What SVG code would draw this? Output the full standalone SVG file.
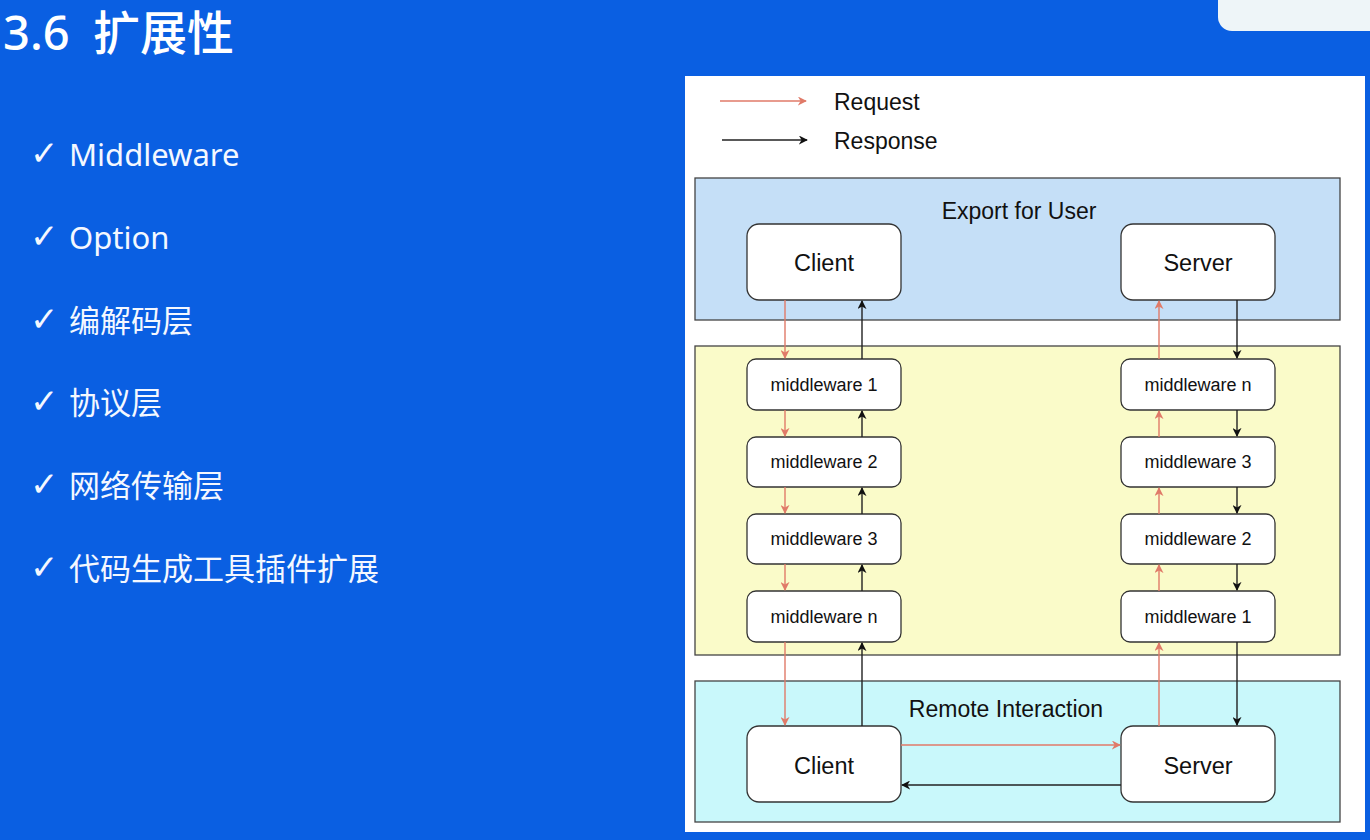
<svg xmlns="http://www.w3.org/2000/svg" width="1370" height="840" viewBox="0 0 1370 840">
<style>
.bg{fill:#0a5fe2}
.side{fill:#f4f8ff;font-family:"Noto Sans","Noto Sans CJK SC",sans-serif;font-size:31px}
.chk{fill:#f4f8ff;font-family:"DejaVu Sans",sans-serif;font-size:34px}
.title{fill:#ffffff;font-family:"Noto Sans","Noto Sans CJK SC",sans-serif;font-size:47px;font-weight:500}
.lbl{font-family:"Liberation Sans",Arial,sans-serif;fill:#111;text-anchor:middle}
.big{font-size:23.5px}
.mw{font-size:18px}
.sec{font-size:23px}
.node{fill:#ffffff;stroke:#333;stroke-width:1.3}
.panel{stroke:#444;stroke-width:1.3}
.req{stroke:#e07a68;stroke-width:1.4;fill:none;marker-end:url(#ar)}
.res{stroke:#222;stroke-width:1.4;fill:none;marker-end:url(#ab)}
</style>
<defs>
<marker id="ar" viewBox="0 0 10 10" refX="9" refY="5" markerWidth="9" markerHeight="9" markerUnits="userSpaceOnUse" orient="auto"><path d="M0,0 L10,5 L0,10 L3,5 z" fill="#e07a68"/></marker>
<marker id="ab" viewBox="0 0 10 10" refX="9" refY="5" markerWidth="9" markerHeight="9" markerUnits="userSpaceOnUse" orient="auto"><path d="M0,0 L10,5 L0,10 L3,5 z" fill="#111"/></marker>
</defs>
<rect class="bg" x="0" y="0" width="1370" height="840"/>
<rect x="1218" y="-20" width="170" height="51" rx="14" fill="#eef5f8"/>
<text class="title" x="3" y="50">3.6 <tspan x="93">扩展性</tspan></text>
<g id="list">
<text class="chk" x="30" y="165">✓</text><text class="side" x="69" y="166">Middleware</text>
<text class="chk" x="30" y="248">✓</text><text class="side" x="69" y="249">Option</text>
<text class="chk" x="30" y="331">✓</text><text class="side" x="69" y="332">编解码层</text>
<text class="chk" x="30" y="413">✓</text><text class="side" x="69" y="414">协议层</text>
<text class="chk" x="30" y="496">✓</text><text class="side" x="69" y="497">网络传输层</text>
<text class="chk" x="30" y="579">✓</text><text class="side" x="69" y="580">代码生成工具插件扩展</text>
</g>
<rect x="685" y="76" width="680" height="756" fill="#ffffff"/>
<g id="legend">
<line class="req" x1="720" y1="101" x2="806" y2="101"/>
<text class="lbl sec" x="834" y="110" style="text-anchor:start">Request</text>
<line class="res" x1="722" y1="140" x2="807" y2="140"/>
<text class="lbl sec" x="834" y="149" style="text-anchor:start">Response</text>
</g>
<g id="export-panel">
<rect class="panel" x="695" y="178" width="645" height="142" fill="#c5dff7"/>
<text class="lbl sec" x="1019" y="219">Export for User</text>
</g>
<g id="mw-panel">
<rect class="panel" x="695" y="346" width="645" height="309" fill="#fafbc9"/>
</g>
<g id="remote-panel">
<rect class="panel" x="695" y="681" width="645" height="141" fill="#c9f8fb"/>
<text class="lbl sec" x="1006" y="717">Remote Interaction</text>
</g>
<g id="client-top"><rect class="node" x="747" y="224" width="154" height="76" rx="12"/><text class="lbl big" x="824" y="271">Client</text></g>
<g id="server-top"><rect class="node" x="1121" y="224" width="154" height="76" rx="12"/><text class="lbl big" x="1198" y="271">Server</text></g>
<g id="lmw1"><rect class="node" x="747" y="359" width="154" height="51" rx="9"/><text class="lbl mw" x="824" y="391">middleware 1</text></g>
<g id="lmw2"><rect class="node" x="747" y="437" width="154" height="50" rx="9"/><text class="lbl mw" x="824" y="468">middleware 2</text></g>
<g id="lmw3"><rect class="node" x="747" y="514" width="154" height="50" rx="9"/><text class="lbl mw" x="824" y="545">middleware 3</text></g>
<g id="lmwn"><rect class="node" x="747" y="591" width="154" height="51" rx="9"/><text class="lbl mw" x="824" y="623">middleware n</text></g>
<g id="rmwn"><rect class="node" x="1121" y="359" width="154" height="51" rx="9"/><text class="lbl mw" x="1198" y="391">middleware n</text></g>
<g id="rmw3"><rect class="node" x="1121" y="437" width="154" height="50" rx="9"/><text class="lbl mw" x="1198" y="468">middleware 3</text></g>
<g id="rmw2"><rect class="node" x="1121" y="514" width="154" height="50" rx="9"/><text class="lbl mw" x="1198" y="545">middleware 2</text></g>
<g id="rmw1"><rect class="node" x="1121" y="591" width="154" height="51" rx="9"/><text class="lbl mw" x="1198" y="623">middleware 1</text></g>
<g id="client-bottom"><rect class="node" x="747" y="726" width="154" height="76" rx="12"/><text class="lbl big" x="824" y="774">Client</text></g>
<g id="server-bottom"><rect class="node" x="1121" y="726" width="154" height="76" rx="12"/><text class="lbl big" x="1198" y="774">Server</text></g>
<g id="connectors">
<line class="req" x1="785" y1="300" x2="785" y2="358"/>
<line class="req" x1="785" y1="410" x2="785" y2="436"/>
<line class="req" x1="785" y1="487" x2="785" y2="513"/>
<line class="req" x1="785" y1="564" x2="785" y2="590"/>
<line class="req" x1="785" y1="642" x2="785" y2="725"/>
<line class="res" x1="862" y1="726" x2="862" y2="643"/>
<line class="res" x1="862" y1="591" x2="862" y2="565"/>
<line class="res" x1="862" y1="514" x2="862" y2="488"/>
<line class="res" x1="862" y1="437" x2="862" y2="411"/>
<line class="res" x1="862" y1="359" x2="862" y2="301"/>
<line class="req" x1="901" y1="745" x2="1120" y2="745"/>
<line class="res" x1="1121" y1="785" x2="902" y2="785"/>
<line class="req" x1="1159" y1="726" x2="1159" y2="643"/>
<line class="req" x1="1159" y1="591" x2="1159" y2="565"/>
<line class="req" x1="1159" y1="514" x2="1159" y2="488"/>
<line class="req" x1="1159" y1="437" x2="1159" y2="411"/>
<line class="req" x1="1159" y1="359" x2="1159" y2="301"/>
<line class="res" x1="1237" y1="300" x2="1237" y2="358"/>
<line class="res" x1="1237" y1="410" x2="1237" y2="436"/>
<line class="res" x1="1237" y1="487" x2="1237" y2="513"/>
<line class="res" x1="1237" y1="564" x2="1237" y2="590"/>
<line class="res" x1="1237" y1="642" x2="1237" y2="725"/>
</g>
</svg>
